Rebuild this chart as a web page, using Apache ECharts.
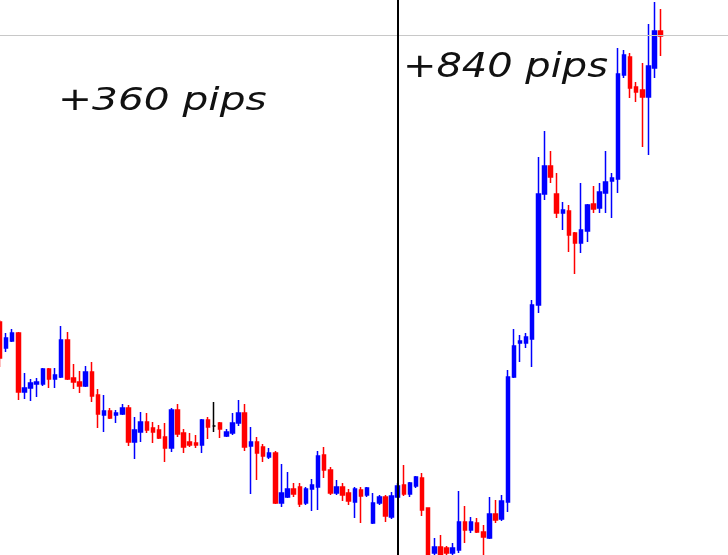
<!DOCTYPE html>
<html>
<head>
<meta charset="utf-8">
<script src="https://cdn.jsdelivr.net/npm/echarts@6/dist/echarts.min.js"></script>
<style>
html,body{margin:0;padding:0;background:#fff;}
#chart{width:728px;height:555px;}
</style>
</head>
<body>
<div id="chart"></div>
<script>
// Price levels (arbitrary units)
var opens  = [233,207,214,222,163,167,171,171,186,176,178,215,177,173,169,183,160,140,144,140,141,147,113,123,133,127,125,118,107,145,
              122,113,112,110,135,129,132,119,122,132,142,109,113,108,98,102,52,58,66,68,52,66,68,100,85,62,68,62,53,65,
              60,32,52,58,38,58,70,61,69,77,47,2,8,7,2,5,33,25,32,23,17,41,36,53,178,212,212,216,250,361,
              389,361,342,344,322,312,324,351,347,362,374,376,480,498,468,465,458,487,524];
var closes = [197,217,222,163,167,172,173,186,176,180,215,176,173,169,183,159,141,144,137,142,147,113,125,133,125,123,117,107,145,121,
              108,110,110,135,128,129,126,123,132,142,108,113,102,99,102,52,62,66,61,51,66,70,99,85,62,68,60,54,66,59,
              67,52,58,39,59,69,61,72,78,45,-7,8,-2,2,7,33,25,33,23,18,41,35,54,178,209,214,218,250,361,389,
              378,342,345,320,312,325,350,346,363,373,377,481,500,467,463,458,489,524,519];
var lows   = [188,203,213,155,156,154,158,169,167,167,177,175,166,162,168,153,127,123,136,132,140,109,96,113,122,112,116,93,103,118,
              102,108,107,102,116,123,117,118,120,129,104,61,75,93,96,51,48,57,58,48,50,44,45,77,60,60,54,50,37,32,
              58,31,50,33,36,57,59,58,67,39,-12,-3,-6,-3,-4,2,12,22,22,0,16,32,34,43,177,193,207,188,242,355,
              372,337,325,303,281,302,313,342,342,342,337,362,477,457,453,408,400,477,499];
var highs  = [235,222,226,223,182,176,177,187,187,187,229,223,191,184,189,193,166,160,147,145,151,150,138,143,142,133,130,132,147,151,
              126,122,120,136,138,153,133,126,142,155,151,128,118,111,107,104,91,83,72,72,68,76,104,108,88,75,72,66,68,68,
              68,62,60,60,63,72,90,73,79,82,47,17,20,9,12,64,49,38,37,30,58,55,60,185,226,220,222,255,398,424,
              404,382,353,350,323,372,351,369,372,404,382,507,505,502,473,492,531,553,546];
var resistanceLevel = 520;   // grey horizontal line
var entryIndex = 65;         // candle where the black vertical line sits
var notes = ['+360 pips', '+840 pips'];
var emptyTail = 11;          // blank slots right of the last candle

var n = opens.length;
var cats = [], ohlc = [];
for (var i = 0; i < n + emptyTail; i++) {
  cats.push(String(i + 1));
  if (i < n) ohlc.push([opens[i], closes[i], lows[i], highs[i]]);
  else ohlc.push('-');
}

var chart = echarts.init(document.getElementById('chart'));
chart.setOption({
  animation: false,
  backgroundColor: '#ffffff',
  grid: {left: 0, right: 0, top: 0, bottom: 0},
  xAxis: {type: 'category', data: cats, show: false, boundaryGap: false},
  yAxis: {type: 'value', min: 0, max: 555, show: false, splitLine: {show: false}},
  series: [{
    type: 'candlestick',
    data: ohlc,
    barWidth: 4,
    clip: true,
    itemStyle: {
      color: '#0000ff', color0: '#ff0000',
      borderColor: '#0000ff', borderColor0: '#ff0000',
      borderColorDoji: '#000000',
      borderWidth: 1.5
    },
    markLine: {
      silent: true,
      symbol: 'none',
      label: {show: false},
      data: [
        {yAxis: resistanceLevel, lineStyle: {color: '#c8c8c8', width: 1, type: 'solid'}},
        {xAxis: cats[entryIndex], lineStyle: {color: '#000000', width: 2, type: 'solid'}}
      ]
    }
  }],
  graphic: [
    {type: 'text', x: 58, y: 102, scaleX: 1.27, z: 100,
     style: {text: notes[0], fontSize: 32, fontFamily: 'DejaVu Sans', fontStyle: 'italic',
             fill: '#111', align: 'left', verticalAlign: 'middle'}},
    {type: 'text', x: 403, y: 68, scaleX: 1.21, z: 100,
     style: {text: notes[1], fontSize: 33, fontFamily: 'DejaVu Sans', fontStyle: 'italic',
             fill: '#111', align: 'left', verticalAlign: 'middle'}}
  ]
});
</script>
</body>
</html>
